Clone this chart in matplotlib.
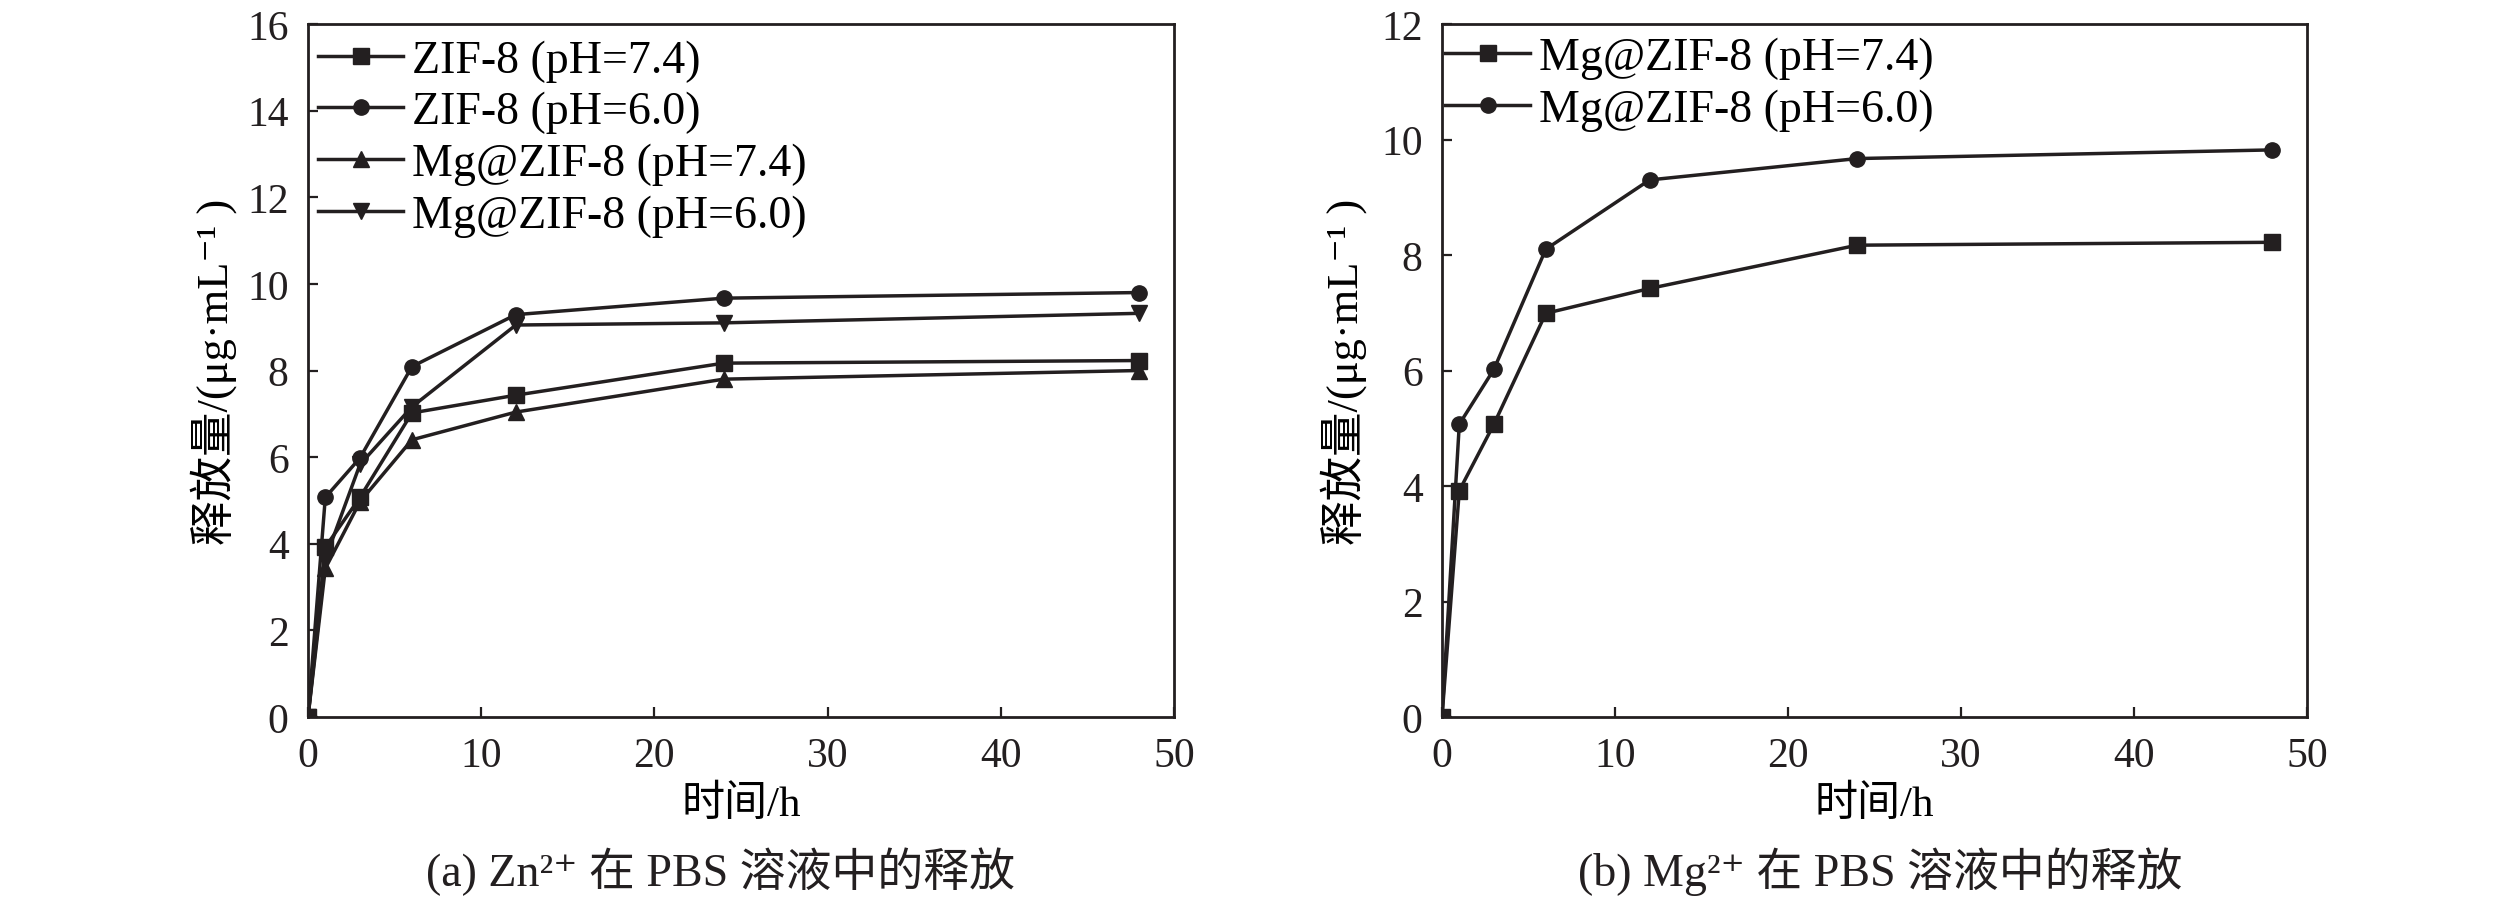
import numpy as np
import matplotlib
matplotlib.use("Agg")
import matplotlib.pyplot as plt

plt.rcParams.update({
    "font.family": ["Liberation Serif", "Noto Sans CJK SC", "DejaVu Serif"],
    "font.size": 30,
    "axes.linewidth": 2.0,
    "axes.unicode_minus": False,
})

INK = "#231f20"

# sampling times (h)
t = [0, 1, 3, 6, 12, 24, 48]

# panel a: Zn2+ release (ug/mL)
zif8_74 = [0, 3.92, 5.07, 7.02, 7.43, 8.17, 8.23]
zif8_60 = [0, 5.07, 5.98, 8.09, 9.29, 9.67, 9.80]
mgzif8_74_zn = [0, 3.43, 4.97, 6.40, 7.04, 7.80, 8.00]
mgzif8_60_zn = [0, 3.65, 5.83, 7.16, 9.05, 9.10, 9.32]

# panel b: Mg2+ release (ug/mL)
mgzif8_74_mg = [0, 3.92, 5.07, 6.99, 7.42, 8.17, 8.22]
mgzif8_60_mg = [0, 5.07, 6.02, 8.10, 9.30, 9.67, 9.82]

labels_a = ["ZIF-8 (pH=7.4)", "ZIF-8 (pH=6.0)", "Mg@ZIF-8 (pH=7.4)", "Mg@ZIF-8 (pH=6.0)"]
labels_b = ["Mg@ZIF-8 (pH=7.4)", "Mg@ZIF-8 (pH=6.0)"]

ylab = "释放量/(μg·mL⁻¹ )"
xlab = "时间/h"
cap_a = "(a) Zn²⁺ 在 PBS 溶液中的释放"
cap_b = "(b) Mg²⁺ 在 PBS 溶液中的释放"

W, H = 2519, 903
fig = plt.figure(figsize=(W / 100, H / 100), dpi=100)
axA = fig.add_axes([308 / W, 1 - 718 / H, 866 / W, 693 / H])
axB = fig.add_axes([1442 / W, 1 - 718 / H, 865 / W, 693 / H])


def style(ax, ymax, ystep):
    ax.set_xlim(0, 50)
    ax.set_ylim(0, ymax)
    ax.set_xticks(np.arange(0, 51, 10))
    ax.set_yticks(np.arange(0, ymax + 0.1, ystep))
    ax.tick_params(direction="in", length=7, width=1.6, pad=14, labelsize=30,
                   top=False, right=False, colors=INK)
    for s in ax.spines.values():
        s.set_color(INK)
    ax.set_xlabel(xlab, fontsize=31)
    ax.set_ylabel(ylab, fontsize=32)


kw = dict(color=INK, lw=2.5, ms=11)
leg_kw = dict(loc="upper left", frameon=False, borderpad=0, borderaxespad=0,
              handlelength=1.85, handletextpad=0.2, labelspacing=0.2, fontsize=33)

axA.plot(t, zif8_74, marker="s", label=labels_a[0], **kw)
axA.plot(t, zif8_60, marker="o", label=labels_a[1], **kw)
axA.plot(t, mgzif8_74_zn, marker="^", label=labels_a[2], **kw)
axA.plot(t, mgzif8_60_zn, marker="v", label=labels_a[3], **kw)
style(axA, 16, 2)
axA.xaxis.set_label_coords(0.5, -0.098)
axA.yaxis.set_label_coords(-0.082, 0.5)
axA.legend(bbox_to_anchor=(0.012, 0.978), **leg_kw)

axB.plot(t, mgzif8_74_mg, marker="s", label=labels_b[0], **kw)
axB.plot(t, mgzif8_60_mg, marker="o", label=labels_b[1], **kw)
style(axB, 12, 2)
axB.xaxis.set_label_coords(0.5, -0.098)
axB.yaxis.set_label_coords(-0.087, 0.5)
axB.legend(bbox_to_anchor=(0.004, 0.982), **leg_kw)

# captions sit under each panel (panel a's is set slightly left of centre)
fig.text(721 / W, 1 - 872 / H, cap_a, ha="center", va="center", fontsize=33, color=INK)
fig.text(1880 / W, 1 - 872 / H, cap_b, ha="center", va="center", fontsize=33, color=INK)

fig.savefig("out.png", dpi=100)
